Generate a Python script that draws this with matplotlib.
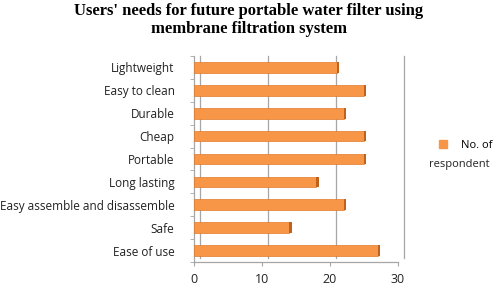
import matplotlib
matplotlib.use("Agg")
import matplotlib.pyplot as plt
from matplotlib.transforms import ScaledTranslation
from matplotlib.patches import Patch

categories = ["Ease of use", "Safe", "Easy assemble and disassemble", "Long lasting",
              "Portable", "Cheap", "Durable", "Easy to clean", "Lightweight"]
values = [27, 14, 22, 18, 25, 25, 22, 25, 21]
xticks = [0, 10, 20, 30]
series_name = ["No. of", "respondent"]
title = "Users' needs for future portable water filter using\nmembrane filtration system"

orange = "#F79646"
dark = "#C0621B"

fig = plt.figure(figsize=(4.98, 2.88), dpi=100)
ax = fig.add_axes([194/498, 1-262/288, 204/498, 206/288])

pos = list(range(len(categories)))
off = ScaledTranslation(6/100, 4/100, fig.dpi_scale_trans)
# back-wall gridlines
for xv in xticks:
    ax.plot([xv, xv], [0, 0.98], color="#A6A6A6", lw=0.9,
            transform=ax.get_xaxis_transform() + off, zorder=0, clip_on=False)
# floor / wall front lines
ax.plot([0, 30], [-0.5, -0.5], color="#A6A6A6", lw=0.9, clip_on=False, zorder=0)
ax.plot([0, 0], [-0.5, 8.5], color="#A6A6A6", lw=0.9, clip_on=False, zorder=0)

ax.barh(pos, values, height=0.47, color=orange, edgecolor="#E07A2A", linewidth=0.5, zorder=3)
ax.barh(pos, [0.35]*len(values), left=values, height=0.47, color=dark, zorder=3)

ax.set_xlim(0, 30)
ax.set_ylim(-0.5, 8.5)
ax.set_yticks(pos)
ax.set_yticklabels(categories, fontfamily="Open Sans", fontsize=8.5, color="#222222")
ax.set_xticks(xticks)
ax.set_xticklabels([str(v) for v in xticks], fontfamily="Open Sans", fontsize=9, color="#222222")
for s in ax.spines.values():
    s.set_visible(False)
ax.tick_params(axis="x", length=3, color="#A6A6A6", pad=5)
ax.set_yticks([p - 0.5 for p in pos] + [8.5], minor=True)
ax.tick_params(axis="y", which="major", length=0, pad=14)
ax.tick_params(axis="y", which="minor", length=3, color="#A6A6A6")

fig.text(0.5, 0.99, title, ha="center", va="top", fontfamily="Liberation Serif",
         fontweight="bold", fontsize=12, linespacing=1.15)

fig.legend(handles=[Patch(color=orange)], labels=[series_name[0]], loc="center left",
           bbox_to_anchor=(439/498, 1-145/288), frameon=False, handlelength=0.7,
           handleheight=0.7, prop={"family": "Open Sans", "size": 8}, handletextpad=1.3,
           borderpad=0, borderaxespad=0)
fig.text(490/498, 1-165/288, series_name[1], ha="right", va="center",
         fontfamily="Open Sans", fontsize=8, color="#222222")

fig.savefig("out.png", dpi=100)
